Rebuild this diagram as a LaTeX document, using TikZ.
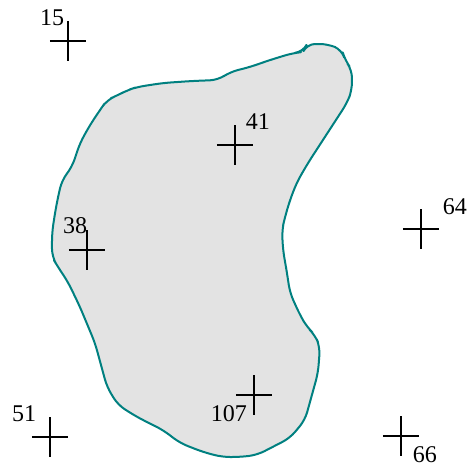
\documentclass[tikz,border=0pt]{standalone}
\usepackage{fontspec}
\setmainfont{Liberation Serif}
\usetikzlibrary{calc,positioning}
\definecolor{BlobFill}{HTML}{E3E3E3}
\definecolor{BlobLine}{HTML}{008080}

\tikzset{
  plus/.pic={\draw[line width=1.3pt] (-18,0) -- (18,0) (0,-20) -- (0,20);},
  num/.style={inner sep=0pt, font=\fontsize{12}{12}\selectfont}
}

\begin{document}
\begin{tikzpicture}[x=0.5pt,y=-0.5pt]
      \useasboundingbox (0,0) rectangle (473,468);
      % region
      \draw[fill=BlobFill, draw=BlobLine, line width=1pt, line join=round,
            rounded corners=4pt]
        (230,72) -- (250,67) -- (270,60) -- (293,53) -- (303,52) -- (307,44)
        -- (328,44) -- (342,50) -- (345,60) -- (352,70) -- (352,90) -- (347,103)
        -- (308,163) -- (297,182) -- (290,200) -- (285,217) -- (282,230)
        -- (283,250) -- (287,273) -- (290,293) -- (300,315) -- (307,327)
        -- (315,335) -- (320,347) -- (318,373) -- (305,420) -- (290,438)
        -- (257,455) -- (240,457) -- (222,457) -- (203,452) -- (180,443)
        -- (163,430) -- (137,417) -- (118,405) -- (107,387) -- (95,343)
        -- (80,307) -- (68,282) -- (58,267) -- (52,257) -- (52,233)
        -- (55,213) -- (58,197) -- (62,180) -- (72,167) -- (80,143)
        -- (90,125) -- (100,110) -- (107,100) -- (118,95) -- (128,90)
        -- (137,87) -- (163,83) -- (192,81) -- (218,80) -- cycle;
      % sites
      \coordinate (c15) at (68,41);
      \coordinate (c41) at (235,145);
      \coordinate (c38) at (87,250);
      \coordinate (c64) at (421,229);
      \coordinate (c51) at (50,437);
      \coordinate (c107) at (254,395);
      \coordinate (c66) at (401,436);
      \foreach \c in {c15,c41,c38,c64,c51,c107,c66}
        \pic at (\c) {plus};
      \node[num] (l15) at ([shift={(-16,-23)}]c15) {15};
      \node[num] (l41) at ([shift={(23,-23)}]c41) {41};
      \node[num] (l38) at ([shift={(-12,-24)}]c38) {38};
      \node[num] (l64) at ([shift={(34,-22)}]c64) {64};
      \node[num] (l51) at ([shift={(-26,-23)}]c51) {51};
      \node[num] (l107) at ([shift={(-25,19)}]c107) {107};
      \node[num] (l66) at ([shift={(24,19)}]c66) {66};
\end{tikzpicture}
\end{document}
